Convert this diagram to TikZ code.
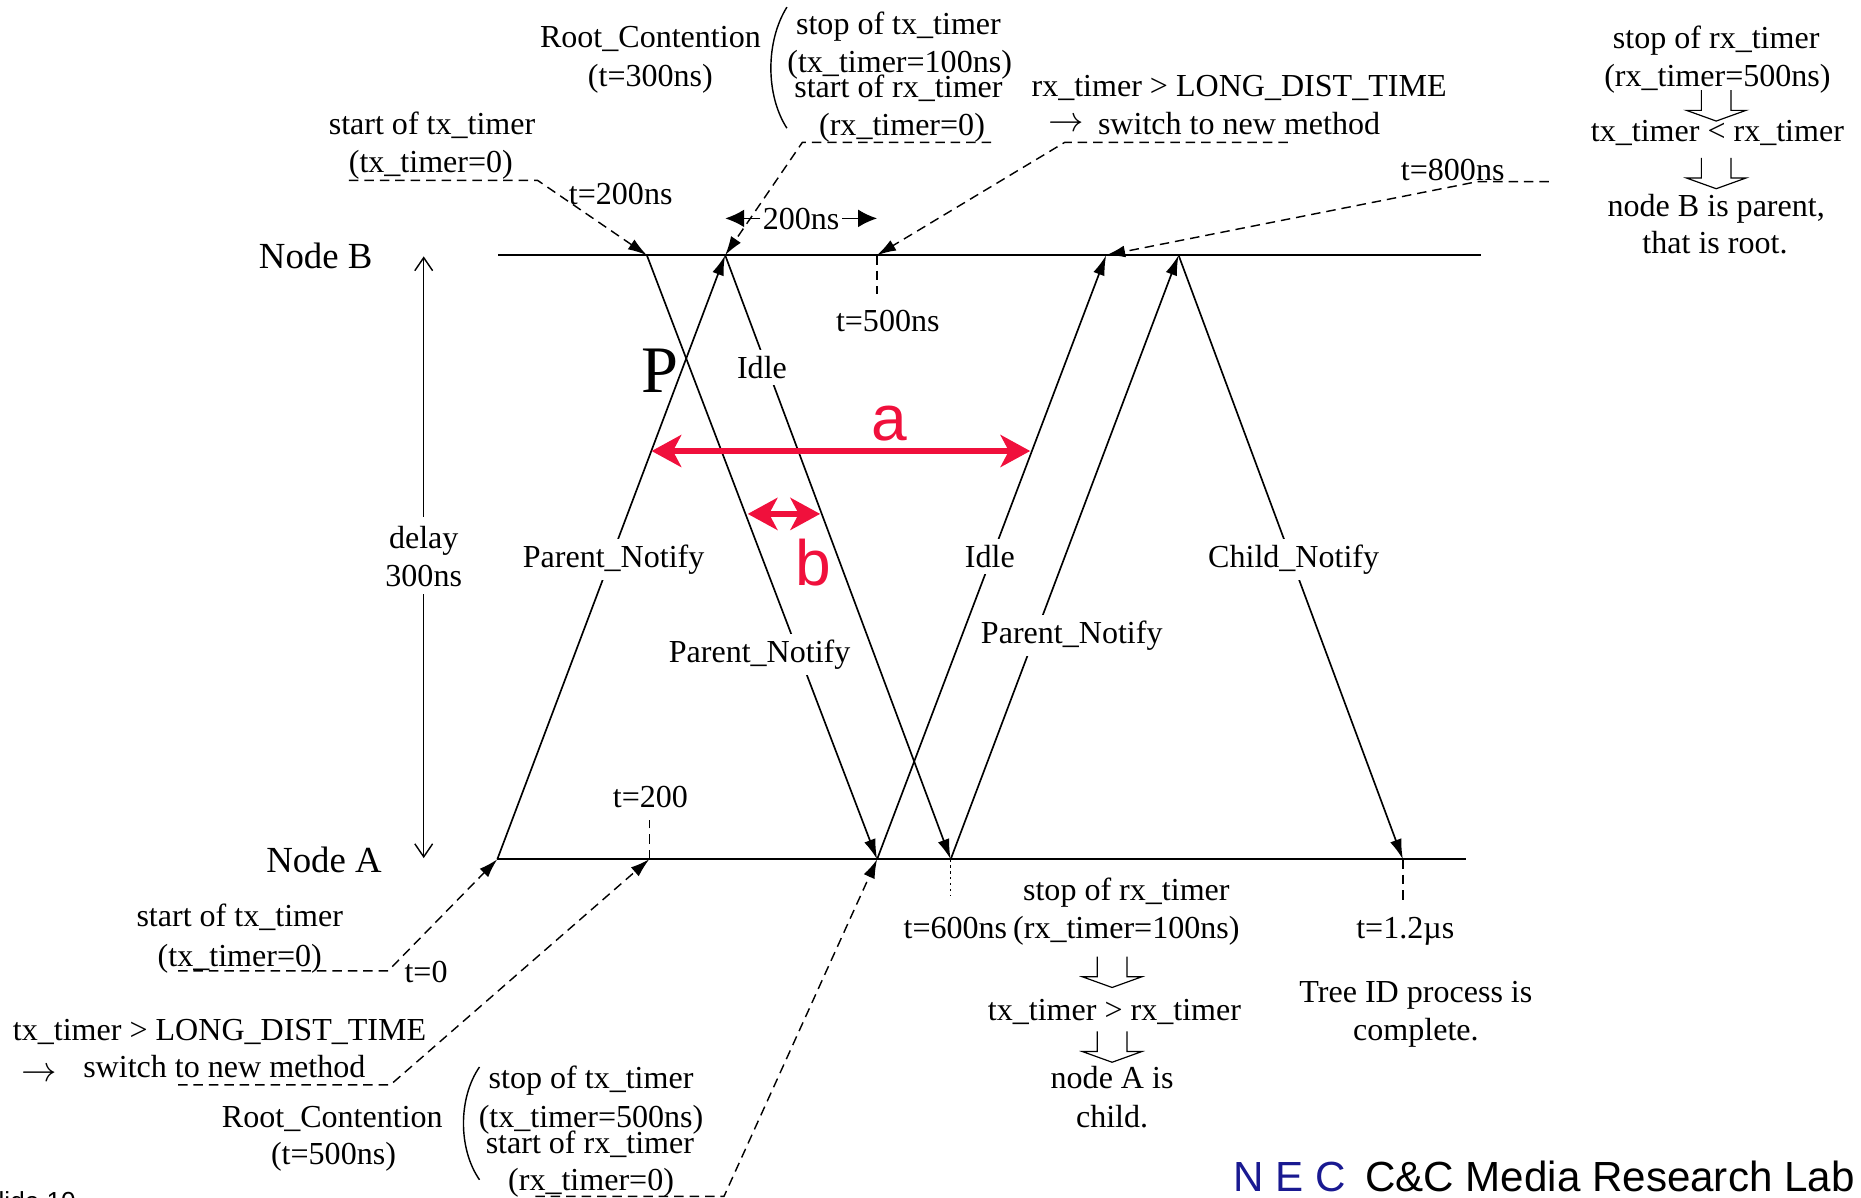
\documentclass[tikz,border=0pt]{standalone}
\usepackage{fontspec}
\usepackage{graphicx}
\setmainfont{Liberation Serif}
\newfontfamily\labsans{Liberation Sans}
\usetikzlibrary{arrows.meta}
\definecolor{markred}{RGB}{240,16,60}
\definecolor{necblue}{RGB}{25,25,145}
\newcommand\txtsize{\fontsize{27}{32}\selectfont}
\newcommand\nodesize{\fontsize{31}{36}\selectfont}
\newcommand\thenarrow{\scalebox{1.2}{$\rightarrow$}}
\begin{document}
\begin{tikzpicture}[x=1pt,y=-1pt,
  txt/.style={font=\txtsize, anchor=base, inner sep=0pt},
  onl/.style={font=\txtsize, anchor=base, fill=white, inner xsep=3pt, inner ysep=5pt},
  base line/.style={line width=2pt},
  sig/.style={line width=1.4pt, -{Latex[length=17pt,width=10pt]}},
  lead/.style={line width=1.2pt, dash pattern=on 8pt off 5pt, -{Latex[length=16pt,width=10pt]}},
  tick/.style={line width=1.2pt, dash pattern=on 8pt off 5pt},
  dots/.style={line width=1.2pt, dash pattern=on 2pt off 3pt},
  span/.style={line width=1.4pt, -{Latex[length=16pt,width=15pt]}},
  redspan/.style={draw=markred, line width=4.5pt,
    {Stealth[length=25pt,width=27pt,inset=7pt]}-{Stealth[length=25pt,width=27pt,inset=7pt]}},
  redtxt/.style={font=\fontsize{54}{60}\selectfont\labsans, text=markred, anchor=base, inner sep=0pt},
  hollowdown/.pic={\draw[line width=1pt] (-12.5,0) -- (-12.5,17) -- (-25,17) -- (0,26)
      -- (25,17) -- (12.5,17) -- (12.5,0);}
]
\useasboundingbox (0,0) rectangle (1568,1009);

% ---------- time lines of the two nodes ----------
\coordinate (Bs) at (420,215);  \coordinate (Be) at (1248,215);
\coordinate (As) at (419,724);  \coordinate (Ae) at (1235,724);
\draw[base line] (Bs) -- (Be);
\draw[base line] (As) -- (Ae);
\node[txt, font=\nodesize] (nB) at (266,226) {Node B};
\node[txt, font=\nodesize] (nA) at (273,735) {Node A};

% event points
\coordinate (B1) at (545,215);
\coordinate (B2) at (611,215);
\coordinate (B3) at (739,215);
\coordinate (B4) at (932,215);
\coordinate (B5) at (993,215);
\coordinate (A1) at (419,724);
\coordinate (A2) at (547,724);
\coordinate (A3) at (739,724);
\coordinate (A4) at (801,724);
\coordinate (A5) at (1182,724);

% ---------- delay between the nodes ----------
\coordinate (dTop) at (357,216);
\coordinate (dBot) at (357,723);
\draw[line width=1.2pt, {Straight Barb[length=11pt,width=15pt]}-{Straight Barb[length=11pt,width=15pt]}] (dTop) -- (dBot);
\node[onl, inner ysep=8pt] (delay) at (357,462) {delay};
\node[onl, inner ysep=6pt] (delayv) at (357,494) {300ns};

% ---------- signals ----------
\draw[sig] (A1) -- (B2);
\draw[sig] (B1) -- (A3);
\draw[sig] (B2) -- (A4);
\draw[sig] (A3) -- (B4);
\draw[sig] (A4) -- (B5);
\draw[sig] (B5) -- (A5);

\node[onl] (pn1) at (517,478) {Parent\_Notify};
\node[onl] (pn2) at (640,558) {Parent\_Notify};
\node[onl] (idle1) at (642,319) {Idle};
\node[onl] (idle2) at (834,478) {Idle};
\node[onl] (pn3) at (903,542) {Parent\_Notify};
\node[onl] (cn) at (1090,478) {Child\_Notify};
\node[txt, font=\fontsize{56}{60}\selectfont] (P) at (556,331) {P};

% ---------- marked intervals ----------
\coordinate (a1) at (549,380);  \coordinate (a2) at (868,380);
\coordinate (b1) at (630,433);  \coordinate (b2) at (691,433);
\draw[redspan] (a1) -- (a2);
\draw[redspan] (b1) -- (b2);
\node[redtxt] (la) at (749,371) {a};
\node[redtxt] (lb) at (685,493) {b};

% ---------- notes at Node B ----------
\node[txt] (sotx) at (364,113) {start of tx\_timer};
\node[txt] (sotxv) at (363,145) {(tx\_timer=0)};
\coordinate (d1s) at (294,152); \coordinate (d1k) at (453,152);
\draw[lead] (d1s) -- (d1k) -- (B1);
\node[txt] (t200ns) at (523,172) {t=200ns};

\node[txt] (rc1) at (548,40) {Root\_Contention};
\node[txt] (rc1t) at (548,73) {(t=300ns)};
\draw[line width=1.2pt] (663,6) .. controls (645,35) and (645,80) .. (663,108);
\node[txt] (stop1) at (757,29) {stop of tx\_timer};
\node[txt] (stop1v) at (758,61) {(tx\_timer=100ns)};
\node[txt] (start1) at (757,82) {start of rx\_timer};
\node[txt] (start1v) at (760,114) {(rx\_timer=0)};
\coordinate (d2s) at (835,120); \coordinate (d2k) at (676,120);
\draw[lead] (d2s) -- (d2k) -- (B2);

\node[txt] (d200) at (675,193) {200ns};
\coordinate (s200l) at (611,184); \coordinate (s200r) at (739,184);
\draw[span] (d200.west |- s200l) ++(-2,0) -- (s200l);
\draw[span] (d200.east |- s200r) ++(2,0) -- (s200r);

\node[txt] (long1) at (1044,81) {rx\_timer {>} LONG\_DIST\_TIME};
\node[txt] (arr1) at (898,111) {\thenarrow};
\node[txt] (sw1) at (1044,113) {switch to new method};
\coordinate (d3s) at (1085,120); \coordinate (d3k) at (897,120);
\draw[lead] (d3s) -- (d3k) -- (B3);
\coordinate (t500e) at (739,248);
\draw[tick] (B3) -- (t500e);
\node[txt] (t500) at (748,279) {t=500ns};

\node[txt] (t800) at (1224,152) {t=800ns};
\coordinate (d4s) at (1305,153); \coordinate (d4k) at (1245,153);
\draw[lead] (d4s) -- (d4k) -- (B4);

\node[txt] (rstop) at (1446,41) {stop of rx\_timer};
\node[txt] (rstopv) at (1447,73) {(rx\_timer=500ns)};
\pic at (1446,76) {hollowdown};
\node[txt] (cmpB) at (1447,119) {tx\_timer {<} rx\_timer};
\pic at (1446,133) {hollowdown};
\node[txt] (resB) at (1446,182) {node B is parent,};
\node[txt] (resB2) at (1445,214) {that is root.};

% ---------- notes at Node A ----------
\node[txt] (t200) at (548,680) {t=200};
\coordinate (t200e) at (547,691);
\draw[tick] (A2) -- (t200e);

\node[txt] (sotxA) at (202,781) {start of tx\_timer};
\node[txt] (sotxAv) at (202,814) {(tx\_timer=0)};
\coordinate (d5s) at (150,818); \coordinate (d5k) at (327,818);
\draw[lead] (d5s) -- (d5k) -- (A1);
\node[txt] (t0) at (359,828) {t=0};

\node[txt] (long2) at (185,877) {tx\_timer {>} LONG\_DIST\_TIME};
\node[txt] (arr2) at (33,911) {\thenarrow};
\node[txt] (sw2) at (189,908) {switch to new method};
\coordinate (d6s) at (150,914); \coordinate (d6k) at (329,914);
\draw[lead] (d6s) -- (d6k) -- (A2);

\node[txt] (rc2) at (280,950) {Root\_Contention};
\node[txt] (rc2t) at (281,981) {(t=500ns)};
\draw[line width=1.2pt] (404,899) .. controls (386,925) and (386,968) .. (404,994);
\node[txt] (stop2) at (498,917) {stop of tx\_timer};
\node[txt] (stop2v) at (498,950) {(tx\_timer=500ns)};
\node[txt] (start2) at (497,972) {start of rx\_timer};
\node[txt] (start2v) at (498,1003) {(rx\_timer=0)};
\coordinate (d7s) at (451,1008); \coordinate (d7k) at (610,1008);
\draw[lead] (d7s) -- (d7k) -- (A3);

\coordinate (t600e) at (801,755);
\draw[dots] (A4) -- (t600e);
\node[txt] (t600) at (805,791) {t=600ns};
\node[txt] (rstopA) at (949,759) {stop of rx\_timer};
\node[txt] (rstopAv) at (949,791) {(rx\_timer=100ns)};
\pic at (937,806) {hollowdown};
\node[txt] (cmpA) at (939,860) {tx\_timer {>} rx\_timer};
\pic at (937,869) {hollowdown};
\node[txt] (resA) at (937,917) {node A is};
\node[txt] (resA2) at (937,950) {child.};

\coordinate (t12e) at (1182,758);
\draw[tick] (A5) -- (t12e);
\node[txt] (t12) at (1184,791) {t=1.2µs};
\node[txt] (done) at (1193,845) {Tree ID process is};
\node[txt] (done2) at (1193,877) {complete.};

% ---------- footer ----------
\node[anchor=base west, inner sep=0pt, font=\fontsize{35.5}{40}\selectfont\labsans, text=necblue] (nec) at (1039,1004) {N E C};
\node[anchor=base west, inner sep=0pt, font=\fontsize{35.5}{40}\selectfont\labsans] (lab) at (1150,1004) {C\&C Media Research Lab};
\node[anchor=base west, inner sep=0pt, font=\fontsize{22}{26}\selectfont\labsans] (slide) at (-16,1020) {Slide 10};
\end{tikzpicture}
\end{document}
